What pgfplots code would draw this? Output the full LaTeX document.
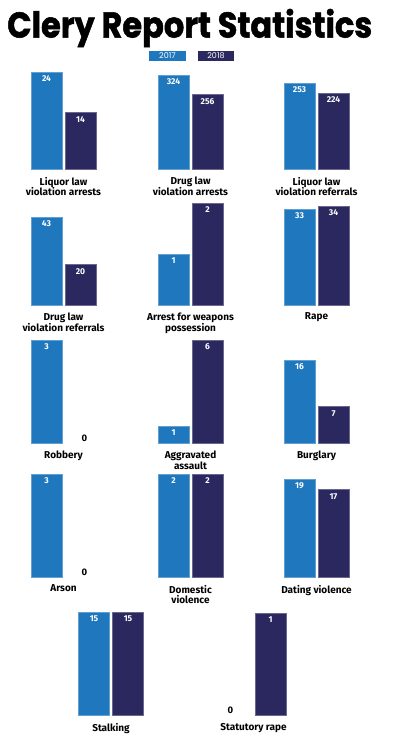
\documentclass[border=0pt]{standalone}
\usepackage{pgfplots}
\pgfplotsset{compat=1.18}
\usepackage{fontspec}
\setmainfont{Fira Sans}
\newfontfamily\titlefont{Poppins}[BoldFeatures={FakeBold=1.5}]
\newfontfamily\legfont{Poppins}
\definecolor{c17}{HTML}{1F77BD}
\definecolor{c18}{HTML}{2A285E}
\tikzset{catlabel/.style={anchor=north, align=center, font=\bfseries\fontsize{10}{10.5}\selectfont, yshift=-4.5pt}}
\pgfplotsset{
  panel/.style={scale only axis, width=68pt, height=110pt, xmin=-0.5, xmax=1.5, ymin=0,
    axis lines=none, ybar, bar width=31pt, bar shift=0pt, anchor=south west, clip=false,
    /pgf/number format/assume math mode=true,
    nodes near coords,
    every node near coord/.append style={anchor=north, text=white, font=\bfseries\fontsize{8.5}{9}\selectfont, yshift=-0.5pt},
  },
  b17/.style={fill=c17, draw=c17!70!white, line width=0.5pt},
  b18/.style={fill=c18, draw=c18!70!white, line width=0.5pt},
  zero/.style={draw=none, fill=none, every node near coord/.append style={anchor=south, text=black, inner sep=0pt, yshift=2pt, font=\bfseries\fontsize{9.5}{9.5}\selectfont}},
}
\begin{document}
\begin{tikzpicture}[x=1pt,y=1pt]
\useasboundingbox (0,0) rectangle (396,752);
\node[anchor=west, inner sep=0pt] at (7,724) {\scalebox{1}[1.12]{\resizebox{365pt}{!}{\titlefont\bfseries Clery Report Statistics}}};
\fill[c17] (149,691) rectangle (186,701);
\node[text=white, font=\legfont\fontsize{8}{8}\selectfont] at (167.5,696) {2017};
\fill[c18] (198,691) rectangle (234,701);
\node[text=white, font=\legfont\fontsize{8}{8}\selectfont] at (216,696) {2018};

% Row 1
\begin{axis}[panel, at={(29.5pt,583pt)}, ymax=27.22]
\addplot[b17] coordinates {(0,24)};
\addplot[b18] coordinates {(1,14)};
\node[catlabel] at (rel axis cs:0.5,0) {Liquor law\\violation arrests};
\end{axis}
\begin{axis}[panel, at={(156.5pt,583pt)}, ymax=379.1]
\addplot[b17] coordinates {(0,324)};
\addplot[b18] coordinates {(1,256)};
\node[catlabel] at (rel axis cs:0.5,0) {Drug law\\violation arrests};
\end{axis}
\begin{axis}[panel, at={(282.5pt,583pt)}, ymax=323.6]
\addplot[b17] coordinates {(0,253)};
\addplot[b18] coordinates {(1,224)};
\node[catlabel] at (rel axis cs:0.5,0) {Liquor law\\violation referrals};
\end{axis}
% Row 2
\begin{axis}[panel, at={(29.5pt,447pt)}, ymax=53.75]
\addplot[b17] coordinates {(0,43)};
\addplot[b18] coordinates {(1,20)};
\node[catlabel] at (rel axis cs:0.5,0) {Drug law\\violation referrals};
\end{axis}
\begin{axis}[panel, at={(156.5pt,447pt)}, ymax=2.157]
\addplot[b17] coordinates {(0,1)};
\addplot[b18] coordinates {(1,2)};
\node[catlabel] at (rel axis cs:0.5,0) {Arrest for weapons\\possession};
\end{axis}
\begin{axis}[panel, at={(282.5pt,447pt)}, ymax=37.78]
\addplot[b17] coordinates {(0,33)};
\addplot[b18] coordinates {(1,34)};
\node[catlabel] at (rel axis cs:0.5,0) {Rape};
\end{axis}
% Row 3
\begin{axis}[panel, at={(29.5pt,309pt)}, ymax=3.204]
\addplot[b17] coordinates {(0,3)};
\addplot[zero, every node near coord/.append style={xshift=4pt}] coordinates {(1,0)};
\node[catlabel] at (rel axis cs:0.5,0) {Robbery};
\end{axis}
\begin{axis}[panel, at={(156.5pt,309pt)}, ymax=6.408]
\addplot[b17] coordinates {(0,1)};
\addplot[b18] coordinates {(1,6)};
\node[catlabel] at (rel axis cs:0.5,0) {Aggravated\\assault};
\end{axis}
\begin{axis}[panel, at={(282.5pt,309pt)}, ymax=21.2]
\addplot[b17] coordinates {(0,16)};
\addplot[b18] coordinates {(1,7)};
\node[catlabel] at (rel axis cs:0.5,0) {Burglary};
\end{axis}
% Row 4
\begin{axis}[panel, at={(29.5pt,175pt)}, ymax=3.204]
\addplot[b17] coordinates {(0,3)};
\addplot[zero, every node near coord/.append style={xshift=4pt}] coordinates {(1,0)};
\node[catlabel] at (rel axis cs:0.5,0) {Arson};
\end{axis}
\begin{axis}[panel, at={(156.5pt,175pt)}, ymax=2.136]
\addplot[b17] coordinates {(0,2)};
\addplot[b18] coordinates {(1,2)};
\node[catlabel] at (rel axis cs:0.5,0) {Domestic\\violence};
\end{axis}
\begin{axis}[panel, at={(282.5pt,175pt)}, ymax=21.33]
\addplot[b17] coordinates {(0,19)};
\addplot[b18] coordinates {(1,17)};
\node[catlabel] at (rel axis cs:0.5,0) {Dating violence};
\end{axis}
% Row 5
\begin{axis}[panel, at={(77pt,37pt)}, ymax=16.02]
\addplot[b17] coordinates {(0,15)};
\addplot[b18] coordinates {(1,15)};
\node[catlabel] at (rel axis cs:0.5,0) {Stalking};
\end{axis}
\begin{axis}[panel, at={(219.5pt,37pt)}, ymax=1.078]
\addplot[zero, every node near coord/.append style={xshift=-6pt}] coordinates {(0,0)};
\addplot[b18] coordinates {(1,1)};
\node[catlabel] at (rel axis cs:0.5,0) {Statutory rape};
\end{axis}
\end{tikzpicture}
\end{document}
